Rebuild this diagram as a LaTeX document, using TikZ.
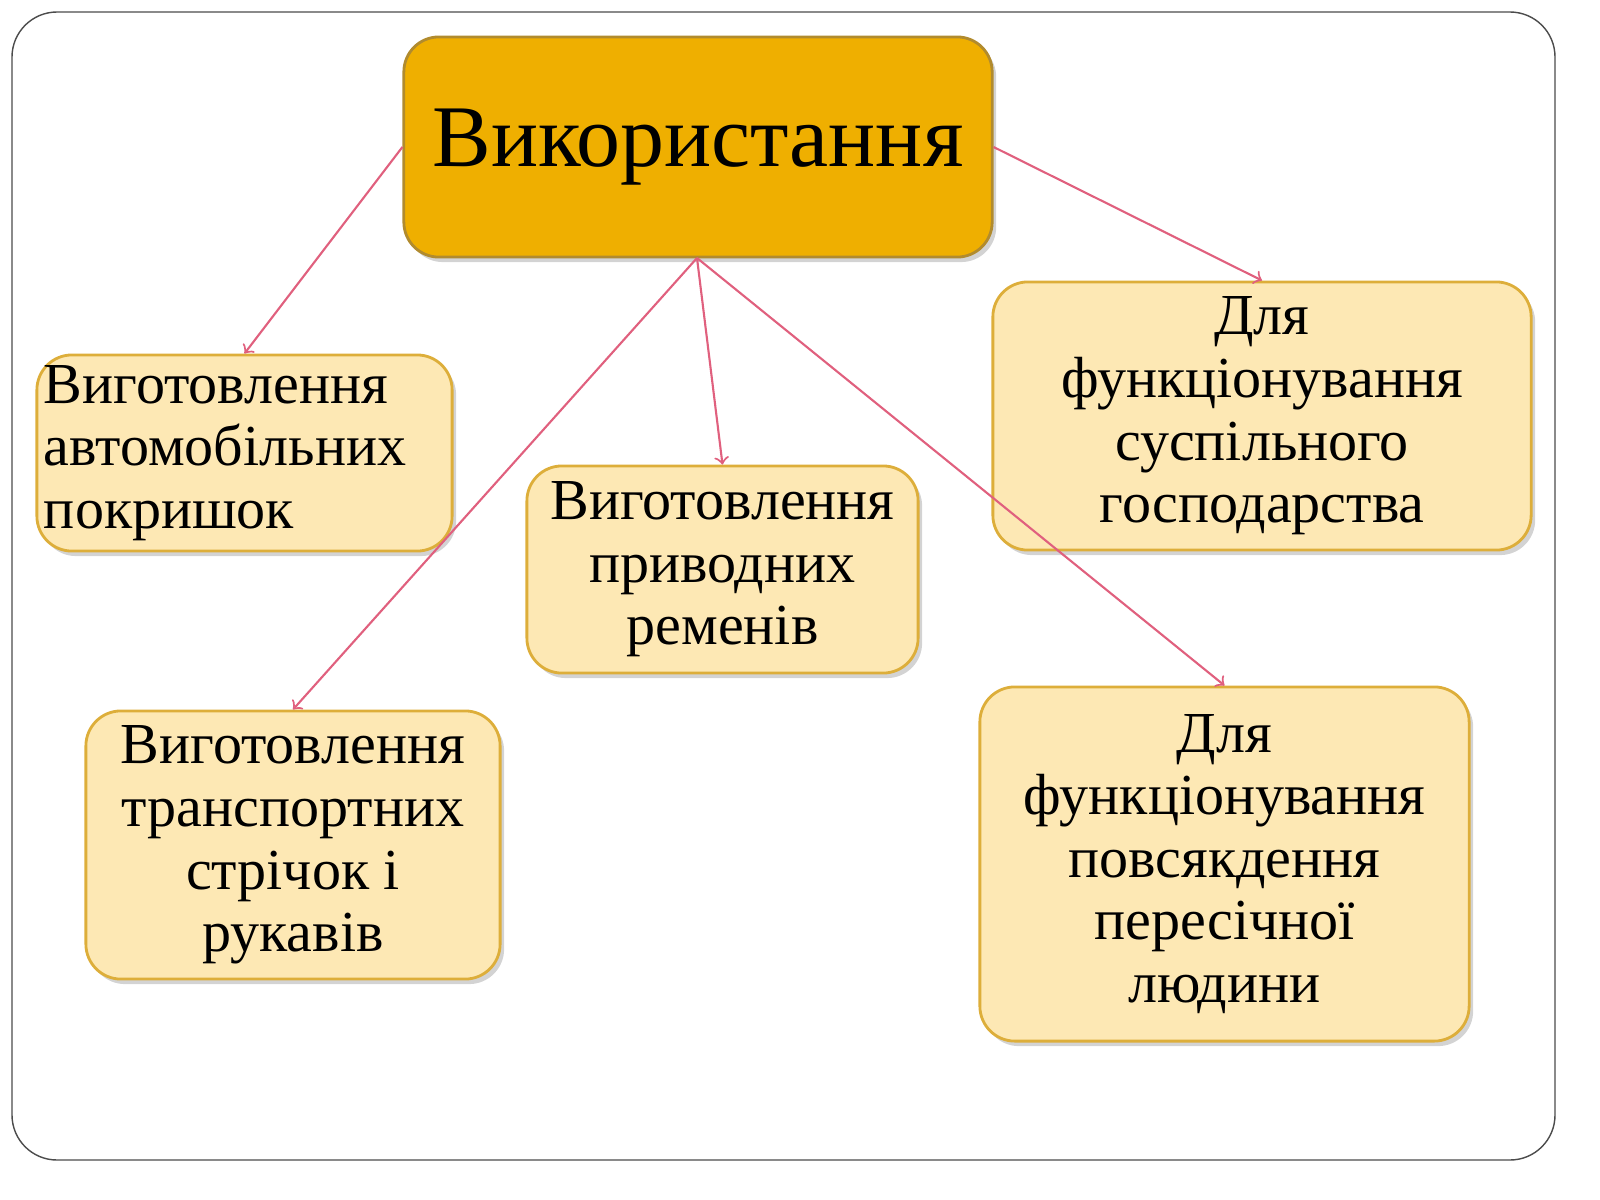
\documentclass[tikz,border=0pt]{standalone}
\usepackage{fontspec}
\setmainfont{Liberation Serif}
\usetikzlibrary{shadows}
\definecolor{boxfill}{HTML}{FDE8B4}
\definecolor{boxline}{HTML}{DDAE3A}
\definecolor{topfill}{HTML}{EFAF00}
\definecolor{arrowcol}{HTML}{E0607E}
\tikzset{
  item/.style={draw=boxline, fill=boxfill, rounded corners=0.35cm, line width=0.8pt,
    drop shadow={opacity=0.35, shadow xshift=0.04cm, shadow yshift=-0.05cm},
    align=center, inner sep=0pt, font=\fontsize{16.5}{17.8}\selectfont},
  link/.style={->, draw=arrowcol, line width=0.6pt}
}
\begin{document}
\begin{tikzpicture}[x=0.01cm, y=-0.01cm]
  \useasboundingbox (0,0) rectangle (1600,1200);
  \draw[rounded corners=0.45cm, draw=black!70] (12,12) rectangle (1555,1160);

  % Top box
  \node[item, draw=boxline!80!black, fill=topfill, minimum width=5.88cm, minimum height=2.2cm,
    font=\fontsize{25}{28}\selectfont] (use) at (698,147) {Використання};

  % Lower boxes
  \node[item, minimum width=4.15cm, minimum height=1.96cm, align=left] (tyres) at (244.5,453)
    {Виготовлення\\автомобільних\\покришок\hspace*{2.6em}};
  \node[item, minimum width=3.91cm, minimum height=2.07cm] (belts) at (722.5,569.5)
    {Виготовлення\\приводних\\ременів};
  \node[item, minimum width=5.38cm, minimum height=2.68cm] (public) at (1262,416)
    {Для\\функціонування\\суспільного\\господарства};
  \node[item, minimum width=4.14cm, minimum height=2.68cm] (tapes) at (293,845)
    {Виготовлення\\транспортних\\стрічок і\\рукавів};
  \node[item, minimum width=4.89cm, minimum height=3.54cm] (daily) at (1224.5,864)
    {Для\\функціонування\\повсякдення\\пересічної\\людини};

  % Arrows
  \coordinate (hub) at (697,258);
  \draw[link] (use.west) -- (tyres.north);
  \draw[link] (hub) -- (belts.north);
  \draw[link] (hub) -- (tapes.north);
  \draw[link] (hub) -- (daily.north);
  \draw[link] (use.east) -- (public.north);
\end{tikzpicture}
\end{document}
